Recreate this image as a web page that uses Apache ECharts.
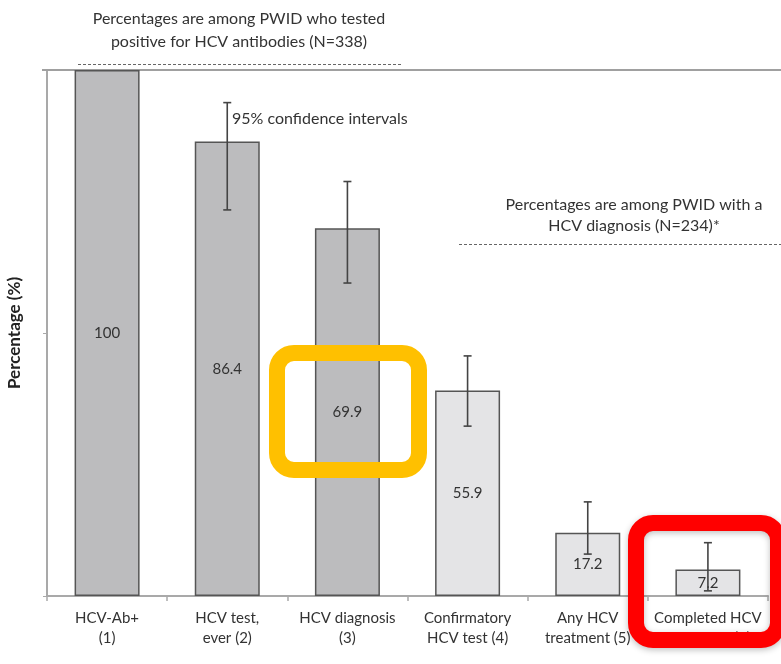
<!DOCTYPE html>
<html>
<head>
<meta charset="utf-8">
<script src="https://cdn.jsdelivr.net/npm/echarts@6/dist/echarts.min.js"></script>
<style>
  html, body { margin: 0; padding: 0; background: #fff; }
  #chart { width: 781px; height: 664px; }
</style>
</head>
<body>
<div id="chart"></div>
<script>
// HCV care cascade among people who inject drugs (PWID)
const categories = [
  'HCV-Ab+\n(1)',
  'HCV test,\never (2)',
  'HCV diagnosis\n(3)',
  'Confirmatory\nHCV test (4)',
  'Any HCV\ntreatment (5)',
  'Completed HCV\ntreatment (6)'
];

// Steps 1-3: % of PWID with HCV antibodies (N=338)
const antibodyPct = [100, 86.4, 69.9];
const antibodyCI = [null, [73.4, 93.8], [59.5, 78.8]];

// Steps 4-6: % of PWID with an HCV diagnosis (N=234)
const diagnosisPct = [55.9, 17.2, 7.2];
const diagnosisCI = [[46.2, 65.3], [11.4, 25.6], [1.4, 14.5]];

// Diagnosed share of antibody-positive PWID: the diagnosed-group axis is
// stretched so its bars sit on the same absolute scale as steps 1-3.
const diagnosedShare = 69.9;

const FONT = 'Lato, "Open Sans", sans-serif';
const TEXT = '#333333';
const AXIS = '#a9a9a9';

const nAb = antibodyPct.length;

const abBars = categories.map((c, i) => i < nAb ? antibodyPct[i] : '-');
const dxBars = categories.map((c, i) => i >= nAb ? diagnosisPct[i - nAb] : '-');

const abErr = [];
antibodyCI.forEach((ci, i) => { if (ci) abErr.push([i, ci[0], ci[1]]); });
const dxErr = diagnosisCI.map((ci, i) => [i + nAb, ci[0], ci[1]]);

function renderErrorBar(params, api) {
  const x = api.value(0);
  const lo = api.coord([x, api.value(1)]);
  const hi = api.coord([x, api.value(2)]);
  const half = 4;
  const style = { stroke: '#444444', lineWidth: 1.6 };
  return {
    type: 'group',
    children: [
      { type: 'line', shape: { x1: lo[0], y1: lo[1], x2: hi[0], y2: hi[1] }, style },
      { type: 'line', shape: { x1: hi[0] - half, y1: hi[1], x2: hi[0] + half, y2: hi[1] }, style },
      { type: 'line', shape: { x1: lo[0] - half, y1: lo[1], x2: lo[0] + half, y2: lo[1] }, style }
    ]
  };
}

const barLabel = {
  show: true,
  position: 'inside',
  color: TEXT,
  fontFamily: FONT,
  fontSize: 15,
  formatter: p => p.value
};

const chart = echarts.init(document.getElementById('chart'), null, { renderer: 'canvas' });

const option = {
  animation: false,
  backgroundColor: '#ffffff',
  textStyle: { fontFamily: FONT },
  grid: { left: 47, right: 13, top: 70, bottom: 68, containLabel: false, outerBoundsMode: 'none' },
  xAxis: {
    type: 'category',
    data: categories,
    axisLine: { lineStyle: { color: AXIS, width: 2 } },
    axisTick: { show: true, length: 5, lineStyle: { color: AXIS, width: 1.5 } },
    axisLabel: {
      color: TEXT, fontFamily: FONT, fontSize: 15, lineHeight: 20, margin: 12, interval: 0
    }
  },
  yAxis: [
    {
      type: 'value',
      min: 0, max: 100, interval: 50,
      name: 'Percentage (%)',
      nameLocation: 'middle',
      nameGap: 24,
      nameTextStyle: { color: '#222', fontFamily: FONT, fontSize: 17, fontWeight: 'bold' },
      axisLine: { show: true, lineStyle: { color: AXIS, width: 2 } },
      axisTick: { show: true, length: 4, lineStyle: { color: AXIS, width: 1 } },
      axisLabel: { show: false },
      splitLine: { show: false }
    },
    {
      type: 'value',
      min: 0, max: 100 * 100 / diagnosedShare,
      show: false,
      splitLine: { show: false }
    }
  ],
  series: [
    {
      name: 'Among HCV-Ab+',
      type: 'bar',
      yAxisIndex: 0,
      data: abBars,
      barWidth: 65,
      barGap: '-100%',
      itemStyle: { color: '#bcbcbe', borderColor: '#555555', borderWidth: 1.5 },
      label: barLabel,
      z: 2
    },
    {
      name: 'Among diagnosed',
      type: 'bar',
      yAxisIndex: 1,
      data: dxBars,
      barWidth: 65,
      barGap: '-100%',
      itemStyle: { color: '#e4e4e6', borderColor: '#555555', borderWidth: 1.5 },
      label: barLabel,
      z: 2
    },
    {
      type: 'custom',
      yAxisIndex: 0,
      data: abErr,
      renderItem: renderErrorBar,
      encode: { x: 0, y: [1, 2] },
      z: 5
    },
    {
      type: 'custom',
      yAxisIndex: 1,
      data: dxErr,
      renderItem: renderErrorBar,
      encode: { x: 0, y: [1, 2] },
      z: 5
    }
  ]
};

chart.setOption(option);

// Reference line at 100 %, carried past the plot to the page edge
const topY = chart.convertToPixel({ yAxisIndex: 0 }, 100);

const noteStyle = { fill: TEXT, font: '16px ' + FONT, textAlign: 'center', textVerticalAlign: 'middle' };
const dashStyle = { stroke: '#666666', lineWidth: 1, lineDash: [3, 2] };

chart.setOption({
  graphic: [
    {
      type: 'line', z: 1,
      shape: { x1: 42, y1: topY, x2: 781, y2: topY },
      style: { stroke: '#a0a0a0', lineWidth: 2 }
    },
    // Group 1 note
    { type: 'text', x: 239, y: 19, style: Object.assign({ text: 'Percentages are among PWID who tested' }, noteStyle) },
    { type: 'text', x: 239, y: 42, style: Object.assign({ text: 'positive for HCV antibodies (N=338)' }, noteStyle) },
    { type: 'line', shape: { x1: 78, y1: 64.5, x2: 402, y2: 64.5 }, style: dashStyle },
    // Group 2 note
    { type: 'text', x: 634, y: 205, style: Object.assign({ text: 'Percentages are among PWID with a' }, noteStyle) },
    { type: 'text', x: 634, y: 226, style: Object.assign({ text: 'HCV diagnosis (N=234)*' }, noteStyle) },
    { type: 'line', shape: { x1: 459, y1: 244.5, x2: 781, y2: 244.5 }, style: dashStyle },
    // Error-bar key
    {
      type: 'text', x: 232, y: 119,
      style: { text: '95% confidence intervals', fill: TEXT, font: '16px ' + FONT, textAlign: 'left', textVerticalAlign: 'middle' }
    },
    // Highlight frames
    {
      type: 'rect', z: 10,
      shape: { x: 277, y: 353, width: 142, height: 117, r: 17 },
      style: { fill: 'none', stroke: '#ffc000', lineWidth: 16 }
    },
    {
      type: 'rect', z: 10,
      shape: { x: 636, y: 523, width: 142, height: 117, r: 17 },
      style: {
        fill: 'none', stroke: '#ff0000', lineWidth: 16,
        shadowBlur: 6, shadowColor: 'rgba(0,0,0,0.25)', shadowOffsetY: 2
      }
    }
  ]
});
</script>
</body>
</html>
